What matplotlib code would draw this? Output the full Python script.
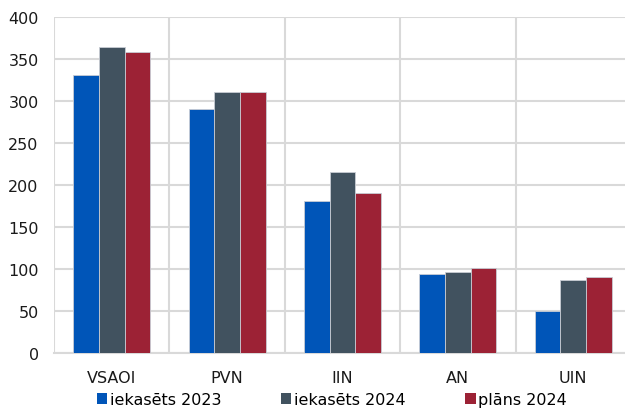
import numpy as np
import matplotlib
matplotlib.use('agg')
import matplotlib.pyplot as plt
from matplotlib.patches import Patch

categories = ['VSAOI', 'PVN', 'IIN', 'AN', 'UIN']
iekasets_2023 = [331, 290, 181, 94, 50]
iekasets_2024 = [364, 311, 215, 97, 87]
plans_2024 = [358, 311, 191, 101, 91]
series_names = ['iekasēts 2023', 'iekasēts 2024', 'plāns 2024']
colors = ['#0055b8', '#41525f', '#9c2235']

plt.rcParams['font.family'] = ['DejaVu Sans']

fig = plt.figure(figsize=(6.25, 4.1), dpi=100)
ax = fig.add_axes([54/625, 1 - 354/410, 577/625, 336/410])

x = np.arange(len(categories))
w = 0.222
for i, (vals, c) in enumerate(zip([iekasets_2023, iekasets_2024, plans_2024], colors)):
    ax.bar(x + (i - 1) * w, vals, width=w, color=c, edgecolor='#c8ccd4', linewidth=0.6, zorder=3)

ax.set_xlim(-0.5, 4.5)
ax.set_ylim(0, 400)
ax.set_yticks(range(0, 401, 50))
ax.set_xticks(x)
ax.set_xticklabels(categories)
ax.set_xticks(np.arange(-0.5, 5, 1), minor=True)
ax.grid(True, axis='y', color='#d9d9d9', linewidth=1.5, zorder=0)
ax.grid(True, axis='x', which='minor', color='#d9d9d9', linewidth=1.5, zorder=0)
ax.tick_params(axis='both', which='both', length=0, labelsize=11.5, colors='#1a1a1a')
ax.tick_params(axis='y', pad=11)
ax.tick_params(axis='x', pad=12)
for s in ['top', 'right', 'left']:
    ax.spines[s].set_visible(False)
ax.spines['bottom'].set_color('#d9d9d9')
ax.spines['bottom'].set_linewidth(1.5)

handles = [Patch(facecolor=c, edgecolor='none') for c in colors]
fig.legend(handles, series_names, loc='lower center', bbox_to_anchor=(0.531, -0.03), ncol=3,
           frameon=False, fontsize=11.5, handlelength=0.65, handleheight=0.65,
           handletextpad=0.15, columnspacing=3.75)

fig.savefig('out.png', dpi=100)
